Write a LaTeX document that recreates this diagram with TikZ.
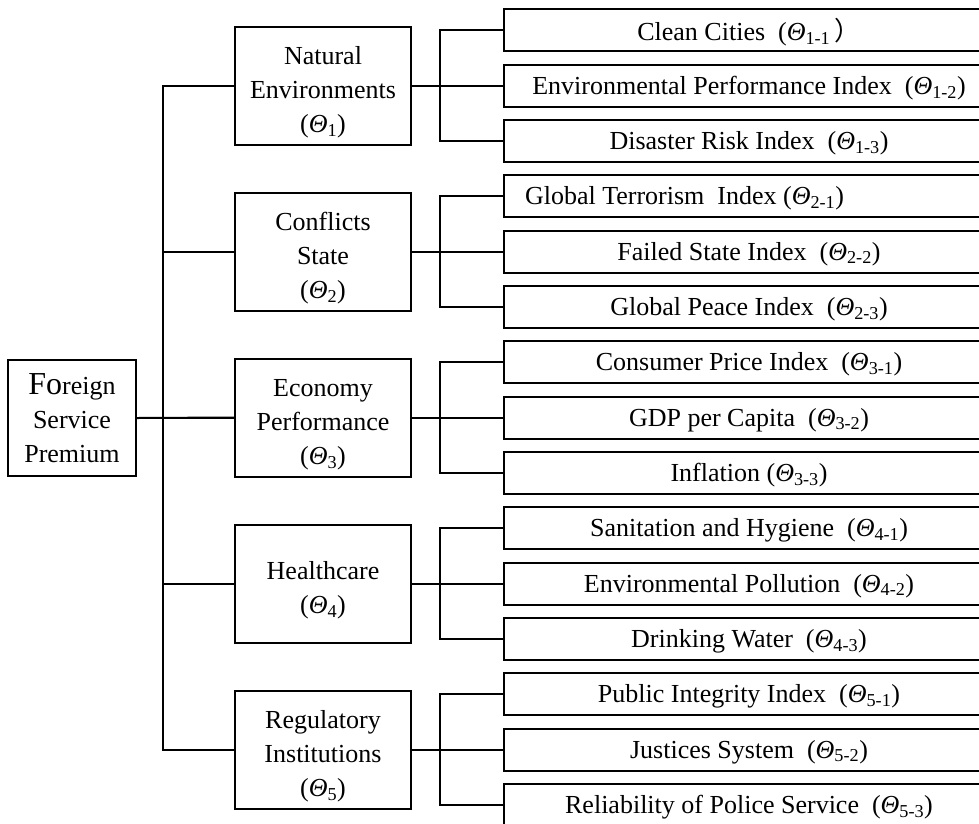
\documentclass[tikz,border=0pt]{standalone}
\usepackage{fontspec}
\setmainfont{Liberation Serif}
\newfontfamily\cjkfont{Noto Sans CJK SC}
% italic Theta with an upright index
\newcommand{\Th}[1]{{\itshape Θ}\textsubscript{#1}}
% text set a little low in its box, keeping the box's extents
\newcommand{\low}[2]{\raisebox{-#1}[\height][\depth]{#2}}
\newcommand{\stack}[1]{\low{6pt}{\begin{tabular}{@{}c@{}}#1\end{tabular}}}
\newcommand{\lv}[1]{\low{2.5pt}{#1}}
\begin{document}
\begin{tikzpicture}[x=1pt,y=-1pt,
  box/.style={draw, line width=2pt, inner sep=0pt, align=center,
    font=\fontsize{26}{34}\selectfont},
  leaf/.style={box, anchor=west, minimum width=490pt, minimum height=42pt},
  grp/.style={box, minimum width=176pt, minimum height=118pt},
  link/.style={line width=2pt, line join=miter}]
\useasboundingbox (0,0) rectangle (979,823);
\clip (0,0) rectangle (979,823);

% root
\node[box, minimum width=128pt, minimum height=116pt] (root) at (72,418)
  {{\fontsize{32}{34}\selectfont Fo}reign\\Service\\Premium};

% criteria
\node[grp] (g1) at (323,85.5)  {\stack{Natural\\Environments\\(\Th{1})}};
\node[grp] (g2) at (323,251.5) {\stack{Conflicts\\State\\(\Th{2})}};
\node[grp] (g3) at (323,417.5) {\stack{Economy\\Performance\\(\Th{3})}};
\node[grp] (g4) at (323,583.5) {\stack{Healthcare\\(\Th{4})}};
\node[grp] (g5) at (323,749.5) {\stack{Regulatory\\Institutions\\(\Th{5})}};

% indicators
\node[leaf] (c11) at (503,30)    {\lv{Clean Cities~~(\Th{1-1}\,{\cjkfont ）}}};
\node[leaf] (c12) at (503,85.5)  {\lv{Environmental Performance Index~~(\Th{1-2})}};
\node[leaf] (c13) at (503,141)   {\lv{Disaster Risk Index~~(\Th{1-3})}};
\node[leaf] (c21) at (503,196)   {\lv{\makebox[448pt][l]{Global Terrorism~~Index (\Th{2-1})}}};
\node[leaf] (c22) at (503,251.5) {\lv{Failed State Index~~(\Th{2-2})}};
\node[leaf] (c23) at (503,307)   {\lv{Global Peace Index~~(\Th{2-3})}};
\node[leaf] (c31) at (503,362)   {\lv{Consumer Price Index~~(\Th{3-1})}};
\node[leaf] (c32) at (503,417.5) {\lv{GDP per Capita~~(\Th{3-2})}};
\node[leaf] (c33) at (503,473)   {\lv{Inflation (\Th{3-3})}};
\node[leaf] (c41) at (503,528)   {\lv{Sanitation and Hygiene~~(\Th{4-1})}};
\node[leaf] (c42) at (503,583.5) {\lv{Environmental Pollution~~(\Th{4-2})}};
\node[leaf] (c43) at (503,639)   {\lv{Drinking Water~~(\Th{4-3})}};
\node[leaf] (c51) at (503,694)   {\lv{Public Integrity Index~~(\Th{5-1})}};
\node[leaf] (c52) at (503,749.5) {\lv{Justices System~~(\Th{5-2})}};
\node[leaf] (c53) at (503,805)   {\lv{Reliability of Police Service~~(\Th{5-3})}};

% trunk from the root to the criteria
\coordinate (trunk) at (163,0);
\draw[link] (g1.west) -- (g1.west -| trunk) -- (g5.west -| trunk) -- (g5.west);
\foreach \g in {2,3,4} \draw[link] (g\g.west) -- (g\g.west -| trunk);
\draw[link] (root.east) -- (g3.west);

% brackets from each criterion to its indicators
\coordinate (br) at (440,0);
\foreach \g in {1,...,5} {
  \draw[link] (g\g.east) -- (g\g.east -| br);
  \draw[link] (c\g1.west) -- (c\g1.west -| br) -- (c\g3.west -| br) -- (c\g3.west);
  \draw[link] (c\g2.west) -- (c\g2.west -| br);
}
\end{tikzpicture}
\end{document}
